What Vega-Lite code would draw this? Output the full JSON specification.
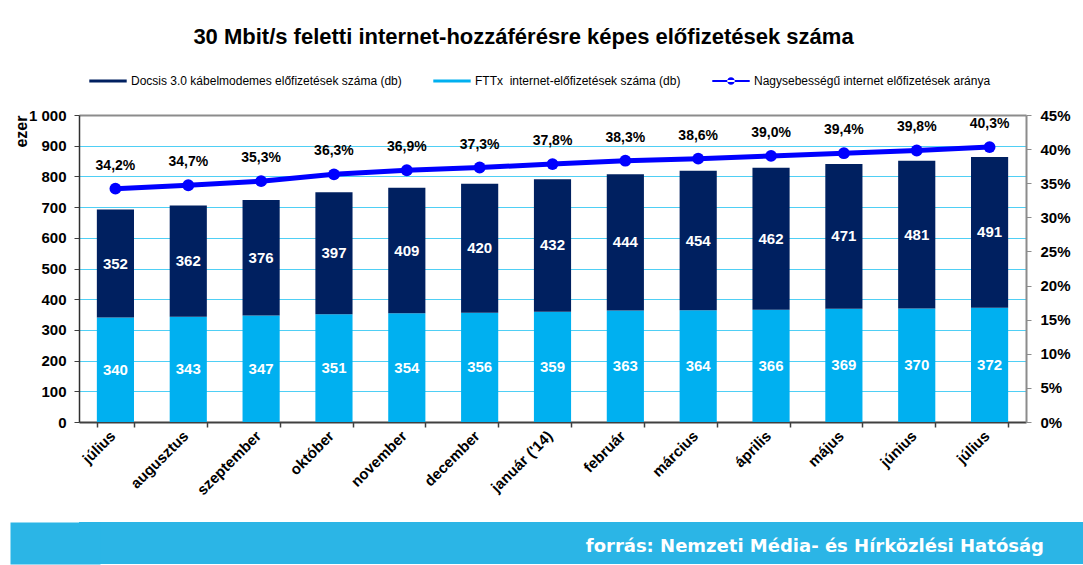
{
  "$schema": "https://vega.github.io/schema/vega-lite/v6.json",
  "background": "white",
  "padding": {"left": 1, "top": 26, "right": 0, "bottom": 0},
  "spacing": 15,
  "config": {
    "font": "Liberation Sans",
    "locale": {"number": {"decimal": ",", "thousands": " ", "grouping": [3], "currency": ["", ""]}},
    "view": {"stroke": null}
  },
  "datasets": {
    "oszlopok": [
      {"ho": 1, "sorozat": "FTTx  internet-előfizetések száma (db)", "rend": 1, "ertek": 340},
      {"ho": 2, "sorozat": "FTTx  internet-előfizetések száma (db)", "rend": 1, "ertek": 343},
      {"ho": 3, "sorozat": "FTTx  internet-előfizetések száma (db)", "rend": 1, "ertek": 347},
      {"ho": 4, "sorozat": "FTTx  internet-előfizetések száma (db)", "rend": 1, "ertek": 351},
      {"ho": 5, "sorozat": "FTTx  internet-előfizetések száma (db)", "rend": 1, "ertek": 354},
      {"ho": 6, "sorozat": "FTTx  internet-előfizetések száma (db)", "rend": 1, "ertek": 356},
      {"ho": 7, "sorozat": "FTTx  internet-előfizetések száma (db)", "rend": 1, "ertek": 359},
      {"ho": 8, "sorozat": "FTTx  internet-előfizetések száma (db)", "rend": 1, "ertek": 363},
      {"ho": 9, "sorozat": "FTTx  internet-előfizetések száma (db)", "rend": 1, "ertek": 364},
      {"ho": 10, "sorozat": "FTTx  internet-előfizetések száma (db)", "rend": 1, "ertek": 366},
      {"ho": 11, "sorozat": "FTTx  internet-előfizetések száma (db)", "rend": 1, "ertek": 369},
      {"ho": 12, "sorozat": "FTTx  internet-előfizetések száma (db)", "rend": 1, "ertek": 370},
      {"ho": 13, "sorozat": "FTTx  internet-előfizetések száma (db)", "rend": 1, "ertek": 372},
      {"ho": 1, "sorozat": "Docsis 3.0 kábelmodemes előfizetések száma (db)", "rend": 2, "ertek": 352},
      {"ho": 2, "sorozat": "Docsis 3.0 kábelmodemes előfizetések száma (db)", "rend": 2, "ertek": 362},
      {"ho": 3, "sorozat": "Docsis 3.0 kábelmodemes előfizetések száma (db)", "rend": 2, "ertek": 376},
      {"ho": 4, "sorozat": "Docsis 3.0 kábelmodemes előfizetések száma (db)", "rend": 2, "ertek": 397},
      {"ho": 5, "sorozat": "Docsis 3.0 kábelmodemes előfizetések száma (db)", "rend": 2, "ertek": 409},
      {"ho": 6, "sorozat": "Docsis 3.0 kábelmodemes előfizetések száma (db)", "rend": 2, "ertek": 420},
      {"ho": 7, "sorozat": "Docsis 3.0 kábelmodemes előfizetések száma (db)", "rend": 2, "ertek": 432},
      {"ho": 8, "sorozat": "Docsis 3.0 kábelmodemes előfizetések száma (db)", "rend": 2, "ertek": 444},
      {"ho": 9, "sorozat": "Docsis 3.0 kábelmodemes előfizetések száma (db)", "rend": 2, "ertek": 454},
      {"ho": 10, "sorozat": "Docsis 3.0 kábelmodemes előfizetések száma (db)", "rend": 2, "ertek": 462},
      {"ho": 11, "sorozat": "Docsis 3.0 kábelmodemes előfizetések száma (db)", "rend": 2, "ertek": 471},
      {"ho": 12, "sorozat": "Docsis 3.0 kábelmodemes előfizetések száma (db)", "rend": 2, "ertek": 481},
      {"ho": 13, "sorozat": "Docsis 3.0 kábelmodemes előfizetések száma (db)", "rend": 2, "ertek": 491}
    ],
    "arany": [
      {"ho": 1, "arany": 0.342}, {"ho": 2, "arany": 0.347}, {"ho": 3, "arany": 0.353},
      {"ho": 4, "arany": 0.363}, {"ho": 5, "arany": 0.369}, {"ho": 6, "arany": 0.373},
      {"ho": 7, "arany": 0.378}, {"ho": 8, "arany": 0.383}, {"ho": 9, "arany": 0.386},
      {"ho": 10, "arany": 0.390}, {"ho": 11, "arany": 0.394}, {"ho": 12, "arany": 0.398},
      {"ho": 13, "arany": 0.403}
    ],
    "forras": [{"szoveg": "forrás: Nemzeti Média- és Hírközlési Hatóság"}]
  },
  "vconcat": [
    {
      "width": 947,
      "height": 307,
      "title": {
        "text": "30 Mbit/s feletti internet-hozzáférésre képes előfizetések száma",
        "fontSize": 22,
        "fontWeight": "bold",
        "font": "Liberation Sans",
        "color": "#000000",
        "anchor": "middle",
        "dx": -29,
        "offset": 59
      },
      "encoding": {
        "x": {
          "field": "ho",
          "type": "ordinal",
          "scale": {"paddingInner": 0.49, "paddingOuter": 0.245},
          "axis": {
            "title": null,
            "labelExpr": "['július','augusztus','szeptember','október','november','december','január (\\'14)','február','március','április','május','június','július'][datum.value - 1]",
            "labelAngle": -45,
            "labelAlign": "right",
            "labelBaseline": "middle",
            "labelFontSize": 15,
            "labelFontWeight": "bold",
            "labelColor": "#000000",
            "labelPadding": 6,
            "labelOffset": -3,
            "tickBand": "extent",
            "tickSize": 5,
            "tickColor": "#404040",
            "tickWidth": 1.5,
            "domainColor": "#404040",
            "domainWidth": 2,
            "grid": false
          }
        }
      },
      "layer": [
        {
          "data": {"name": "oszlopok"},
          "layer": [
            {
              "mark": {"type": "bar"},
              "encoding": {
                "y": {
                  "field": "ertek",
                  "type": "quantitative",
                  "stack": "zero",
                  "scale": {"domain": [0, 1000], "nice": false},
                  "axis": {
                    "title": "ezer",
                    "titleFontSize": 16,
                    "titleFontWeight": "bold",
                    "titleColor": "#000000",
                    "titleAnchor": "end",
                    "titlePadding": -1,
                    "values": [0, 100, 200, 300, 400, 500, 600, 700, 800, 900, 1000],
                    "format": ",d",
                    "labelOverlap": false,
                    "labelFontSize": 15,
                    "labelFontWeight": "bold",
                    "labelColor": "#000000",
                    "labelPadding": 8,
                    "tickSize": 5,
                    "tickColor": "#404040",
                    "domainColor": "#303030",
                    "domainWidth": 1.5,
                    "grid": true,
                    "gridColor": {"condition": {"test": "datum.value == 1000", "value": "#8c8c8c"}, "value": "#4fcff5"},
                    "gridWidth": {"condition": {"test": "datum.value == 1000", "value": 2}, "value": 1}
                  }
                },
                "color": {
                  "field": "sorozat",
                  "type": "nominal",
                  "scale": {
                    "domain": ["Docsis 3.0 kábelmodemes előfizetések száma (db)", "FTTx  internet-előfizetések száma (db)", "Nagysebességű internet előfizetések aránya"],
                    "range": ["#002060", "#00b0f0", "#0000ff"]
                  },
                  "legend": {
                    "title": null,
                    "orient": "none",
                    "direction": "horizontal",
                    "legendX": 10,
                    "legendY": -53,
                    "labelFontSize": 12,
                    "labelColor": "#000000",
                    "labelFont": "Liberation Sans",
                    "labelLimit": 400,
                    "labelExpr": "datum.label == 'FTTx  internet-előfizetések száma (db)' ? 'FTTx\u00a0 internet-előfizetések száma (db)' : datum.label",
                    "symbolSize": 1400,
                    "labelOffset": 4,
                    "columnPadding": 31,
                    "padding": 0,
                    "encode": {
                      "symbols": {
                        "update": {
                          "shape": {"signal": "datum.value == 'Nagysebességű internet előfizetések aránya' ? 'M-1,-0.055H1V0.055H-1Z M-0.2,0A0.2,0.2 0 1,0 0.2,0A0.2,0.2 0 1,0 -0.2,0Z' : 'M-1,-0.085H1V0.085H-1Z'"},
                          "fill": {"signal": "scale('color', datum.value)"},
                          "stroke": {"value": "transparent"},
                          "strokeWidth": {"value": 0},
                          "opacity": {"value": 1}
                        }
                      }
                    }
                  }
                },
                "order": {"field": "rend", "type": "quantitative"}
              }
            },
            {
              "transform": [
                {"stack": "ertek", "groupby": ["ho"], "sort": [{"field": "rend"}], "as": ["y0", "y1"]},
                {"calculate": "(datum.y0 + datum.y1) / 2", "as": "kozep"}
              ],
              "mark": {"type": "text", "color": "white", "fontSize": 15, "fontWeight": "bold", "baseline": "middle"},
              "encoding": {
                "y": {
                  "field": "kozep",
                  "type": "quantitative",
                  "axis": {
                    "title": "ezer",
                    "titleFontSize": 16,
                    "titleFontWeight": "bold",
                    "titleColor": "#000000",
                    "titleAnchor": "end",
                    "titlePadding": -1,
                    "values": [0, 100, 200, 300, 400, 500, 600, 700, 800, 900, 1000],
                    "format": ",d",
                    "labelOverlap": false,
                    "labelFontSize": 15,
                    "labelFontWeight": "bold",
                    "labelColor": "#000000",
                    "labelPadding": 8,
                    "tickSize": 5,
                    "tickColor": "#404040",
                    "domainColor": "#303030",
                    "domainWidth": 1.5,
                    "grid": true,
                    "gridColor": {"condition": {"test": "datum.value == 1000", "value": "#8c8c8c"}, "value": "#4fcff5"},
                    "gridWidth": {"condition": {"test": "datum.value == 1000", "value": 2}, "value": 1}
                  }
                },
                "text": {"field": "ertek", "type": "quantitative", "format": "d"}
              }
            }
          ]
        },
        {
          "data": {"name": "arany"},
          "layer": [
            {
              "mark": {"type": "line", "strokeWidth": 5, "point": {"filled": true, "size": 140, "opacity": 1}},
              "encoding": {
                "y": {
                  "field": "arany",
                  "type": "quantitative",
                  "scale": {"domain": [0, 0.45], "nice": false},
                  "axis": {
                    "orient": "right",
                    "title": null,
                    "values": [0, 0.05, 0.1, 0.15, 0.2, 0.25, 0.3, 0.35, 0.4, 0.45],
                    "format": ".0%",
                    "labelOverlap": false,
                    "labelFontSize": 15,
                    "labelFontWeight": "bold",
                    "labelColor": "#000000",
                    "labelPadding": 9,
                    "tickSize": 5,
                    "tickColor": "#8c8c8c",
                    "domainColor": "#8c8c8c",
                    "domainWidth": 2,
                    "grid": false
                  }
                },
                "color": {"datum": "Nagysebességű internet előfizetések aránya"}
              }
            },
            {
              "mark": {"type": "text", "fontSize": 14, "fontWeight": "bold", "color": "#000000", "baseline": "middle", "dy": -23},
              "encoding": {
                "y": {
                  "field": "arany",
                  "type": "quantitative",
                  "axis": {
                    "orient": "right",
                    "title": null,
                    "values": [0, 0.05, 0.1, 0.15, 0.2, 0.25, 0.3, 0.35, 0.4, 0.45],
                    "format": ".0%",
                    "labelOverlap": false,
                    "labelFontSize": 15,
                    "labelFontWeight": "bold",
                    "labelColor": "#000000",
                    "labelPadding": 9,
                    "tickSize": 5,
                    "tickColor": "#8c8c8c",
                    "domainColor": "#8c8c8c",
                    "domainWidth": 2,
                    "grid": false
                  }
                },
                "text": {"field": "arany", "type": "quantitative", "format": ".1%"}
              }
            }
          ]
        }
      ],
      "resolve": {"scale": {"y": "independent"}}
    },
    {
      "width": 1006,
      "height": 42,
      "data": {"name": "forras"},
      "view": {"fill": "#2bb5e6", "stroke": null},
      "mark": {"type": "text", "align": "right", "baseline": "middle", "font": "DejaVu Sans", "fontWeight": "bold", "fontSize": 18, "color": "white", "dx": -41, "dy": 4},
      "encoding": {
        "x": {"datum": 1, "type": "quantitative", "scale": {"domain": [0, 1]}, "axis": null},
        "y": {
          "datum": 0.5,
          "type": "quantitative",
          "scale": {"domain": [0, 1]},
          "axis": {
            "title": null,
            "values": [0.5],
            "labels": false,
            "domain": false,
            "grid": false,
            "ticks": true,
            "tickSize": 48,
            "tickWidth": 42,
            "tickColor": "#2bb5e6",
            "tickCap": "square"
          }
        },
        "text": {"field": "szoveg", "type": "nominal"}
      }
    }
  ]
}
